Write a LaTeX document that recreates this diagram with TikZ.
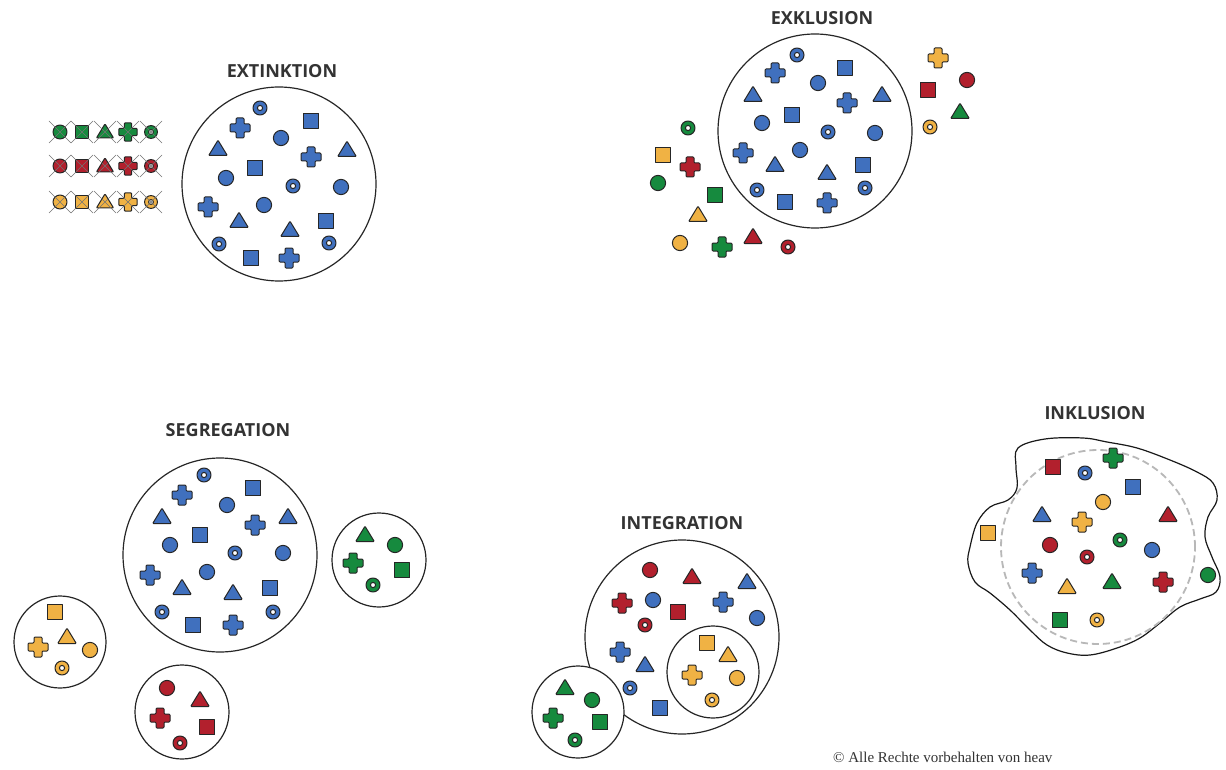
\documentclass[tikz,border=0pt]{standalone}
\usepackage{fontspec}
\setmainfont{Liberation Serif}
\newfontfamily\labfont{Open Sans}
\definecolor{bl}{RGB}{64,112,190}
\definecolor{rd}{RGB}{178,32,45}
\definecolor{gn}{RGB}{22,138,62}
\definecolor{og}{RGB}{240,178,68}
\newcommand\sy[4]{\pic at (#2,#3) {#1=#4};}
\newcommand\xsy[4]{\pic[scale=0.92] at (#2,#3) {#1=#4}; \pic at (#2,#3) {xx};}
\begin{document}
\begin{tikzpicture}[x=1pt,y=-1pt,
  sym/.style={draw=black!85,line width=1pt,line join=round},
  bigc/.style={draw=black!85,line width=1.2pt,fill=white},
  lab/.style={font=\labfont\bfseries\fontsize{18}{20}\selectfont,text=black!80,inner sep=0pt},
  pics/cir/.style={code={\draw[sym,fill=#1] (0,0) circle (7.6pt);}},
  pics/sqr/.style={code={\draw[sym,fill=#1] (-7.5,-7.5) rectangle (7.5,7.5);}},
  pics/tri/.style={code={\draw[sym,fill=#1,rounded corners=0.8pt] (-9.3,6.5) -- (9.3,6.5) -- (0,-8.8) -- cycle;}},
  pics/crs/.style={code={\draw[sym,fill=#1,rounded corners=1pt] (-4,-10)--(4,-10)--(4,-4)--(10,-4)--(10,4)--(4,4)--(4,10)--(-4,10)--(-4,4)--(-10,4)--(-10,-4)--(-4,-4)--cycle;}},
  pics/rng/.style={code={\draw[sym,fill=#1,even odd rule] (0,0) circle (7pt) (0,0) circle (2.6pt);}},
  pics/xx/.style={code={\draw[black!55,line width=0.6pt] (-11,-11)--(11,11) (-11,11)--(11,-11);}}
]
\path[use as bounding box,fill=white] (0,0) rectangle (1226,770);

% ---------------- EXTINKTION
\node[lab] (extl) at (282,71) {EXTINKTION};
\draw[bigc] (279,184) circle (97pt);
\xsy{cir}{60}{132}{gn}\xsy{sqr}{82}{132}{gn}\xsy{tri}{105}{132}{gn}\xsy{crs}{128}{132}{gn}\xsy{rng}{151}{132}{gn}
\xsy{cir}{60}{166}{rd}\xsy{sqr}{82}{166}{rd}\xsy{tri}{105}{166}{rd}\xsy{crs}{128}{166}{rd}\xsy{rng}{151}{166}{rd}
\xsy{cir}{60}{202}{og}\xsy{sqr}{82}{202}{og}\xsy{tri}{105}{202}{og}\xsy{crs}{128}{202}{og}\xsy{rng}{151}{202}{og}
\sy{rng}{260}{108}{bl}\sy{crs}{240}{128}{bl}\sy{sqr}{311}{121}{bl}\sy{cir}{281}{138}{bl}
\sy{tri}{218}{149}{bl}\sy{crs}{311}{157}{bl}\sy{tri}{347}{150}{bl}\sy{sqr}{255}{168}{bl}
\sy{cir}{226}{178}{bl}\sy{rng}{293}{186}{bl}\sy{cir}{341}{187}{bl}\sy{crs}{208}{207}{bl}
\sy{cir}{264}{205}{bl}\sy{tri}{239}{221}{bl}\sy{tri}{290}{230}{bl}\sy{sqr}{326}{221}{bl}
\sy{rng}{219}{244}{bl}\sy{sqr}{251}{258}{bl}\sy{crs}{289}{258}{bl}\sy{rng}{329}{243}{bl}

% ---------------- EXKLUSION
\node[lab] (exkl) at (822,18) {EXKLUSION};
\draw[bigc] (815,131) circle (97pt);
\sy{rng}{797}{55}{bl}\sy{crs}{775}{73}{bl}\sy{sqr}{845}{68}{bl}\sy{cir}{818}{83}{bl}
\sy{tri}{753}{95}{bl}\sy{crs}{847}{103}{bl}\sy{tri}{882}{95}{bl}\sy{sqr}{792}{115}{bl}
\sy{cir}{762}{123}{bl}\sy{rng}{828}{132}{bl}\sy{cir}{875}{133}{bl}\sy{crs}{743}{153}{bl}
\sy{cir}{800}{150}{bl}\sy{tri}{775}{165}{bl}\sy{tri}{827}{173}{bl}\sy{sqr}{863}{165}{bl}
\sy{rng}{757}{190}{bl}\sy{sqr}{785}{202}{bl}\sy{crs}{827}{203}{bl}\sy{rng}{865}{188}{bl}
\sy{crs}{938}{58}{og}\sy{cir}{967}{80}{rd}\sy{sqr}{928}{90}{rd}\sy{tri}{960}{112}{gn}\sy{rng}{930}{127}{og}
\sy{rng}{688}{128}{gn}\sy{sqr}{663}{155}{og}\sy{crs}{690}{167}{rd}\sy{cir}{658}{183}{gn}
\sy{sqr}{715}{195}{gn}\sy{tri}{698}{215}{og}\sy{cir}{680}{243}{og}\sy{crs}{722}{247}{gn}
\sy{tri}{753}{237}{rd}\sy{rng}{788}{247}{rd}

% ---------------- SEGREGATION
\node[lab] (segl) at (228,430) {SEGREGATION};
\draw[bigc] (220,555) circle (97pt);
\draw[bigc] (379,560) circle (47pt);
\draw[bigc] (60,642) circle (46pt);
\draw[bigc] (182,712) circle (47pt);
\sy{rng}{204}{475}{bl}\sy{crs}{182}{495}{bl}\sy{sqr}{253}{488}{bl}\sy{cir}{227}{505}{bl}
\sy{tri}{162}{517}{bl}\sy{crs}{255}{525}{bl}\sy{tri}{288}{517}{bl}\sy{sqr}{200}{535}{bl}
\sy{cir}{170}{545}{bl}\sy{rng}{235}{553}{bl}\sy{cir}{283}{553}{bl}\sy{crs}{150}{575}{bl}
\sy{cir}{207}{572}{bl}\sy{tri}{182}{588}{bl}\sy{tri}{233}{593}{bl}\sy{sqr}{270}{588}{bl}
\sy{rng}{162}{612}{bl}\sy{sqr}{193}{625}{bl}\sy{crs}{233}{625}{bl}\sy{rng}{273}{612}{bl}
\sy{tri}{365}{535}{gn}\sy{cir}{395}{545}{gn}\sy{crs}{353}{563}{gn}\sy{sqr}{402}{570}{gn}\sy{rng}{373}{585}{gn}
\sy{sqr}{55}{612}{og}\sy{tri}{67}{637}{og}\sy{crs}{38}{647}{og}\sy{cir}{90}{650}{og}\sy{rng}{62}{668}{og}
\sy{cir}{167}{688}{rd}\sy{tri}{200}{700}{rd}\sy{crs}{160}{718}{rd}\sy{sqr}{207}{727}{rd}\sy{rng}{180}{743}{rd}

% ---------------- INTEGRATION
\node[lab] (intl) at (682,523) {INTEGRATION};
\draw[bigc] (682,637) circle (97pt);
\draw[bigc] (713,672) circle (46pt);
\draw[bigc] (578,712) circle (46pt);
\sy{cir}{650}{570}{rd}\sy{tri}{692}{577}{rd}\sy{tri}{747}{582}{bl}\sy{crs}{622}{603}{rd}
\sy{cir}{653}{600}{bl}\sy{sqr}{678}{612}{rd}\sy{crs}{723}{602}{bl}\sy{cir}{757}{618}{bl}
\sy{rng}{645}{625}{rd}\sy{crs}{620}{652}{bl}\sy{tri}{645}{665}{bl}\sy{rng}{630}{688}{bl}\sy{sqr}{660}{708}{bl}
\sy{sqr}{707}{643}{og}\sy{tri}{728}{655}{og}\sy{crs}{692}{675}{og}\sy{cir}{737}{678}{og}\sy{rng}{712}{700}{og}
\sy{tri}{565}{688}{gn}\sy{cir}{592}{700}{gn}\sy{crs}{553}{718}{gn}\sy{sqr}{600}{722}{gn}\sy{rng}{575}{740}{gn}

% ---------------- INKLUSION
\node[lab] (inkl) at (1095,413) {INKLUSION};
\draw[black!90,line width=1.2pt,fill=white] plot[smooth cycle,tension=0.6] coordinates {
 (1018,448) (1045,439) (1083,438) (1107,442) (1137,448) (1170,460) (1197,472) (1213,483)
 (1217,500) (1208,517) (1205,537) (1212,557) (1220,577) (1216,592) (1200,599) (1180,607)
 (1160,623) (1140,638) (1117,648) (1090,655) (1067,653) (1047,645) (1030,630) (1010,610)
 (990,593) (975,582) (968,563) (970,547) (977,523) (990,507) (1008,500) (1017,488) (1016,467)};
\draw[black!28,line width=1.8pt,dash pattern=on 7pt off 4pt] (1098,547) circle (97pt);
\sy{sqr}{1053}{467}{rd}\sy{rng}{1085}{473}{bl}\sy{crs}{1113}{458}{gn}\sy{sqr}{1133}{487}{bl}
\sy{cir}{1103}{502}{og}\sy{tri}{1042}{515}{bl}\sy{crs}{1082}{522}{og}\sy{tri}{1168}{515}{rd}
\sy{sqr}{988}{533}{og}\sy{rng}{1120}{540}{gn}\sy{cir}{1050}{545}{rd}\sy{rng}{1087}{557}{rd}
\sy{cir}{1152}{550}{bl}\sy{crs}{1032}{573}{bl}\sy{tri}{1067}{587}{og}\sy{tri}{1112}{582}{gn}
\sy{crs}{1163}{582}{rd}\sy{cir}{1208}{575}{gn}\sy{sqr}{1060}{620}{gn}\sy{rng}{1097}{620}{og}

% ---------------- copyright
\node[anchor=west,font=\fontsize{15}{17}\selectfont,text=black!80,inner sep=0pt] (copy) at (833,757) {© Alle Rechte vorbehalten von heav};
\end{tikzpicture}
\end{document}
